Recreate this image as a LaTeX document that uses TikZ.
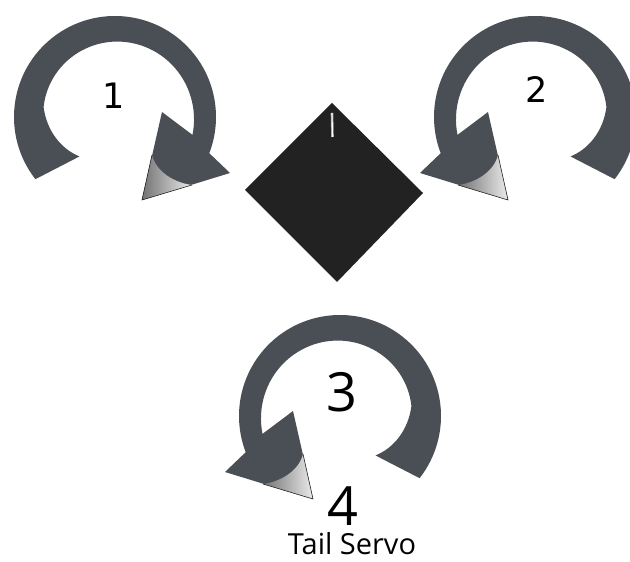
\documentclass[tikz,border=0pt]{standalone}
\usepackage{fontspec}
\setmainfont{Open Sans}
\newfontfamily\digitfont{DejaVu Sans}
\usepackage{tikz}
\usetikzlibrary{arrows.meta}

\definecolor{ringgray}{HTML}{4A4F55}
\definecolor{boardgray}{HTML}{222222}

\tikzset{
    ring/.style = {fill=ringgray},
    curl/.style = {left color=black!55, right color=black!8},
    curledge/.style = {draw=black!85, line width=0.6pt, line join=round},
    bignum/.style = {inner sep=0pt, font=\fontsize{54}{54}\selectfont},
    smallnum/.style = {inner sep=0pt, font=\digitfont\fontsize{35}{35}\selectfont},
    caption/.style = {inner sep=0pt, anchor=base, font=\fontsize{29}{29}\selectfont}
}

\begin{document}
\begin{tikzpicture}[x=1pt, y=1pt]
        \clip (0, 0) rectangle (630, 562);
        \fill [white] (0, 0) rectangle (630, 562);
        \foreach \cx/\cy/\fl in {115/445/1, 535/445/-1, 340/146/-1}
        {
            \begin{scope}[shift={(\cx, \cy)}, xscale=\fl]
                \fill [ring] (218:101) arc [start angle=218, end angle=-21, radius=101]
                -- (115, -56) -- (27, -83) -- (47, 5)
                -- plot [domain=-13:228, samples=70, variable=\t] (\t:{79 - 0.04*\t - 0.3*max(0, \t - 172)})
                -- cycle;
                \shade [curl] (27, -83) -- (37, -38) .. controls (41, -55) and (60, -66) .. (77, -68) -- cycle;
                \draw [curledge] (37, -38) -- (27, -83) -- (77, -68);
            \end{scope}
        }
        \fill [boardgray] (332, 459) -- (423, 369) -- (337, 280) -- (245, 372) -- cycle;
        \draw [gray!70, line width=2.6pt] (332, 449) -- (332.5, 425);
        \draw [white, line width=1.1pt] (332, 449) -- (332.5, 425);
        \node [smallnum] (n1) at (114, 466) {1};
        \node [smallnum] (n2) at (537, 472) {2};
        \node [bignum] (n3) at (342, 170) {3};
        \node [bignum] (n4) at (343, 56) {4};
        \node [caption] (tail) at (352, 7) {Tail Servo};
\end{tikzpicture}
\end{document}
